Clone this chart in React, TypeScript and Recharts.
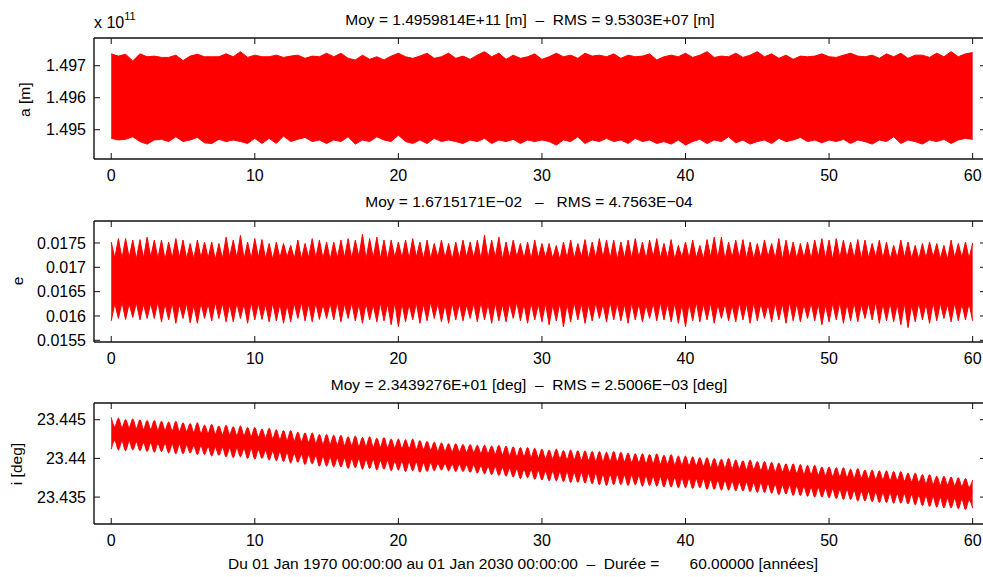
import React from 'react';
import { ComposedChart, Area, XAxis, YAxis, ReferenceLine } from 'recharts';

// ---------- axes / ticks ----------
const YEAR_TICKS = [0, 10, 20, 30, 40, 50, 60];
const X_DOMAIN: [number, number] = [-1.2, 60.93];
const A_TICKS = [1.495, 1.496, 1.497];
const A_DOMAIN: [number, number] = [1.494085, 1.497866];
const E_TICKS = [0.0155, 0.016, 0.0165, 0.017, 0.0175];
const E_DOMAIN: [number, number] = [0.015465, 0.017952];
const I_TICKS = [23.435, 23.44, 23.445];
const I_DOMAIN: [number, number] = [23.43152, 23.44716];

// ---------- texts ----------
const TITLE_A = 'Moy = 1.4959814E+11 [m]  \u2013  RMS = 9.5303E+07 [m]';
const TITLE_E = 'Moy = 1.6715171E\u221202   \u2013   RMS = 4.7563E\u221204';
const TITLE_I = 'Moy = 2.3439276E+01 [deg]  \u2013  RMS = 2.5006E\u221203 [deg]';
const XLABEL = 'Du 01 Jan 1970 00:00:00 au 01 Jan 2030 00:00:00  \u2013  Dur\u00e9e =       60.00000 [ann\u00e9es]';
const YLABEL_A = 'a [m]';
const YLABEL_E = 'e';
const YLABEL_I = 'i [deg]';

// ---------- data: a (x 1e11 m), envelope every 0.5 year ----------
const A_STEP = 0.5;
const aUpper = [
  1.49737, 1.4973, 1.49736, 1.49715, 1.49737, 1.49728, 1.4973, 1.49726, 1.49726, 1.49733,
  1.49716, 1.4973, 1.49736, 1.49728, 1.49728, 1.49728, 1.49737, 1.49728, 1.49744, 1.49726,
  1.49733, 1.49728, 1.49728, 1.49733, 1.49726, 1.4973, 1.49733, 1.49723, 1.4973, 1.49728,
  1.49739,
  1.49728, 1.49739, 1.49723, 1.49718, 1.49733, 1.4972, 1.49728, 1.49718, 1.4973, 1.49739,
  1.49728, 1.49723, 1.4973, 1.49739, 1.49723, 1.49728, 1.49739, 1.49723, 1.4973, 1.4972,
  1.49733, 1.49744, 1.49728, 1.49739, 1.4972, 1.49733, 1.49723, 1.49728, 1.49737, 1.4972,
  1.49728, 1.49739, 1.49728, 1.49733, 1.49723, 1.49739, 1.4973, 1.49733, 1.49728, 1.49737,
  1.49723, 1.49733, 1.49728, 1.4973, 1.49737, 1.49718,
  1.49728, 1.49733, 1.49728, 1.49739, 1.49726, 1.49733, 1.49744, 1.49726, 1.4973, 1.49728,
  1.49739, 1.49726, 1.49733, 1.49744, 1.49728, 1.49737, 1.49723, 1.49733, 1.4972, 1.4973,
  1.49728, 1.4973, 1.49737, 1.49728, 1.49726, 1.49733, 1.49739, 1.4973, 1.49728, 1.49733,
  1.49723, 1.49737, 1.49728, 1.49739, 1.49723, 1.49733, 1.49733, 1.49726, 1.49739, 1.49728,
  1.49744, 1.49728, 1.49737, 1.49741,
];
const aLower = [
  1.49473, 1.49468, 1.4947, 1.49478, 1.49463, 1.49455, 1.49468, 1.4947, 1.49463, 1.49478,
  1.49463, 1.49468, 1.49476, 1.49459, 1.49457, 1.4947, 1.49463, 1.49468, 1.49463, 1.49457,
  1.49473, 1.49457, 1.49473, 1.49457, 1.4948, 1.49463, 1.4947, 1.49476, 1.49463, 1.49468,
  1.49457,
  1.49468, 1.49463, 1.49478, 1.49455, 1.49468, 1.49463, 1.49478, 1.49468, 1.49463, 1.49483,
  1.49463, 1.49457, 1.49468, 1.49457, 1.49473, 1.49463, 1.49468, 1.49463, 1.49457, 1.49468,
  1.49463, 1.49473, 1.49457, 1.49468, 1.49463, 1.4947, 1.49457, 1.49468, 1.49463, 1.49468,
  1.49463, 1.49452, 1.49468, 1.49463, 1.49478, 1.49457, 1.49468, 1.49463, 1.49473, 1.49463,
  1.49468, 1.49457, 1.49473, 1.49463, 1.49468, 1.49457,
  1.49463, 1.49455, 1.49468, 1.49452, 1.49463, 1.4947, 1.49457, 1.49468, 1.49463, 1.49478,
  1.49459, 1.49468, 1.49455, 1.49463, 1.49468, 1.49457, 1.49473, 1.49463, 1.49468, 1.49476,
  1.49463, 1.49468, 1.49459, 1.49468, 1.49463, 1.4947, 1.49457, 1.49468, 1.49463, 1.49455,
  1.49468, 1.49463, 1.49478, 1.49457, 1.49468, 1.49463, 1.49455, 1.49468, 1.49463, 1.4947,
  1.49457, 1.49468, 1.49473, 1.4947,
];

// ---------- data: e, spikes every 0.5 yr, core between ----------
const FINE_STEP = 0.25;
const eSpikeHigh = [
  0.01752, 0.01759, 0.01759, 0.01756, 0.01757, 0.01762, 0.01756, 0.01756, 0.01752, 0.01759,
  0.01756, 0.01749, 0.01756, 0.01752, 0.01752, 0.01749, 0.01762, 0.01756, 0.01766, 0.01752,
  0.01759, 0.01757, 0.01749, 0.01752, 0.01749, 0.01745, 0.01756, 0.01749, 0.01759, 0.01756,
  0.01752,
  0.01752, 0.01756, 0.01759, 0.01756, 0.01768, 0.01759, 0.01762, 0.01756, 0.01756, 0.01752,
  0.01756, 0.01759, 0.01752, 0.01756, 0.01749, 0.01756, 0.01749, 0.01752, 0.01756, 0.01752,
  0.01756, 0.01766, 0.01756, 0.01762, 0.01752, 0.01756, 0.01749, 0.01752, 0.01756, 0.01749,
  0.01749, 0.01745, 0.01752, 0.01756, 0.01749, 0.01757, 0.01752, 0.01759, 0.01756, 0.01756,
  0.01752, 0.01756, 0.01759, 0.01752, 0.01756, 0.01759,
  0.01749, 0.01757, 0.01745, 0.01752, 0.01756, 0.01745, 0.01757, 0.01762, 0.01762, 0.01752,
  0.01756, 0.01757, 0.01752, 0.01749, 0.01756, 0.01749, 0.01759, 0.01756, 0.01752, 0.01749,
  0.01752, 0.01756, 0.01759, 0.01756, 0.01759, 0.01756, 0.01752, 0.01757, 0.01756, 0.01749,
  0.01756, 0.01752, 0.01745, 0.01756, 0.01752, 0.01745, 0.01749, 0.01752, 0.01749, 0.01745,
  0.01756, 0.01749, 0.01752, 0.0175,
];
const eSpikeLow = [
  0.0159, 0.01595, 0.01593, 0.01597, 0.01592, 0.01595, 0.01595, 0.01588, 0.01592, 0.01585,
  0.01595, 0.01586, 0.01585, 0.01595, 0.0159, 0.01595, 0.01588, 0.01588, 0.01595, 0.01585,
  0.01592, 0.01593, 0.01588, 0.0159, 0.01585, 0.01588, 0.01595, 0.0159, 0.01588, 0.01593,
  0.01595,
  0.01592, 0.01588, 0.01595, 0.0159, 0.01585, 0.01592, 0.01588, 0.0159, 0.01582, 0.01578,
  0.01588, 0.01592, 0.01585, 0.0159, 0.01595, 0.01588, 0.01585, 0.01592, 0.0159, 0.01595,
  0.01588, 0.01592, 0.01585, 0.0159, 0.01588, 0.01595, 0.0159, 0.01585, 0.01592, 0.01588,
  0.01582, 0.0159, 0.01578, 0.01588, 0.01592, 0.01585, 0.0159, 0.01595, 0.01588, 0.01592,
  0.0159, 0.01585, 0.01592, 0.01588, 0.01595, 0.0159,
  0.01592, 0.01588, 0.01585, 0.01578, 0.0159, 0.01588, 0.01592, 0.01585, 0.01595, 0.0159,
  0.01588, 0.01592, 0.01585, 0.0159, 0.01595, 0.01588, 0.01592, 0.01585, 0.0159, 0.01588,
  0.01595, 0.0159, 0.01582, 0.01588, 0.01592, 0.01585, 0.0159, 0.01588, 0.01595, 0.01592,
  0.01585, 0.0159, 0.01588, 0.01582, 0.01576, 0.01588, 0.01592, 0.01585, 0.0159, 0.01595,
  0.01588, 0.0159, 0.01592, 0.0159,
];
const eCoreHigh = [
  0.01719, 0.01718, 0.0172, 0.01717, 0.01719, 0.01721, 0.01718, 0.01716, 0.01719, 0.0172,
  0.01718, 0.01717, 0.0172, 0.01719, 0.01716, 0.01718, 0.01721, 0.01719, 0.01717, 0.01718,
  0.0172, 0.01718, 0.01716, 0.01719, 0.01721, 0.01718, 0.01717, 0.0172, 0.01719, 0.01718,
  0.01716, 0.01719, 0.0172, 0.01718, 0.01721, 0.01717, 0.01719, 0.01718, 0.01716, 0.0172,
  0.01719, 0.01718, 0.01721, 0.01717, 0.01718, 0.0172, 0.01719, 0.01716, 0.01718, 0.01721,
  0.01719, 0.01717, 0.01718, 0.0172, 0.01716, 0.01719, 0.01721, 0.01718, 0.01717, 0.01719,
  0.0172, 0.01718, 0.01716, 0.01719, 0.01718, 0.01721, 0.01717, 0.01719, 0.0172, 0.01718,
  0.01716, 0.01719, 0.01718, 0.0172, 0.01717, 0.01721, 0.01719, 0.01718, 0.01716, 0.0172,
  0.01718, 0.01719, 0.01717, 0.01721, 0.01718, 0.01716, 0.0172, 0.01719, 0.01718, 0.01717,
  0.01719, 0.01721, 0.01718, 0.01716, 0.0172, 0.01718, 0.01719, 0.01717, 0.01721, 0.01718,
  0.01716, 0.01719, 0.0172, 0.01718, 0.01717, 0.01719, 0.01721, 0.01718, 0.01716, 0.01719,
  0.0172, 0.01718, 0.01717, 0.01719, 0.01721, 0.01718, 0.01716, 0.01719, 0.0172, 0.01718,
];
const eCoreLow = [
  0.01626, 0.01628, 0.01625, 0.01627, 0.01624, 0.01626, 0.01629, 0.01625, 0.01627, 0.01624,
  0.01626, 0.01623, 0.01627, 0.01625, 0.01628, 0.01626, 0.01624, 0.01627, 0.01625, 0.01629,
  0.01626, 0.01624, 0.01627, 0.01625, 0.01623, 0.01626, 0.01628, 0.01625, 0.01627, 0.01624,
  0.01626, 0.01629, 0.01625, 0.01627, 0.01624, 0.01626, 0.01623, 0.01627, 0.01625, 0.01628,
  0.01626, 0.01624, 0.01627, 0.01625, 0.01629, 0.01626, 0.01624, 0.01627, 0.01625, 0.01623,
  0.01626, 0.01628, 0.01625, 0.01627, 0.01624, 0.01626, 0.01629, 0.01625, 0.01627, 0.01624,
  0.01626, 0.01623, 0.01627, 0.01625, 0.01628, 0.01626, 0.01624, 0.01627, 0.01625, 0.01629,
  0.01626, 0.01624, 0.01627, 0.01625, 0.01623, 0.01626, 0.01628, 0.01625, 0.01627, 0.01624,
  0.01626, 0.01629, 0.01625, 0.01627, 0.01624, 0.01626, 0.01623, 0.01627, 0.01625, 0.01628,
  0.01626, 0.01624, 0.01627, 0.01625, 0.01629, 0.01626, 0.01624, 0.01627, 0.01625, 0.01623,
  0.01626, 0.01628, 0.01625, 0.01627, 0.01624, 0.01626, 0.01629, 0.01625, 0.01627, 0.01624,
  0.01626, 0.01623, 0.01627, 0.01625, 0.01628, 0.01626, 0.01624, 0.01627, 0.01625, 0.01626,
];

// ---------- data: i (deg), lobes every 0.5 yr, waists between ----------
const iLobeTop = [
  23.4453, 23.4452, 23.445, 23.4451, 23.445, 23.4449, 23.4449, 23.4448, 23.4447, 23.4448,
  23.4446, 23.4445, 23.4446, 23.4443, 23.4444, 23.4442, 23.4443, 23.4441, 23.4442, 23.444,
  23.444, 23.4438, 23.4439, 23.4437, 23.4436, 23.4436, 23.4434, 23.4433, 23.4433, 23.4431,
  23.4431, 23.443, 23.443, 23.4428, 23.4429, 23.4427, 23.4428, 23.4426, 23.4427, 23.4425,
  23.4425, 23.4424, 23.4425, 23.4423, 23.4422, 23.4421, 23.442, 23.4419, 23.4419, 23.4418,
  23.4418, 23.4417, 23.4417, 23.4416, 23.4417, 23.4416, 23.4415, 23.4414, 23.4414, 23.4413,
  23.4412, 23.4411, 23.4412, 23.441, 23.4411, 23.441, 23.441, 23.4409, 23.4409, 23.4408,
  23.4409, 23.4408, 23.4407, 23.4406, 23.4406, 23.4405, 23.4406, 23.4404, 23.4405, 23.4403,
  23.4403, 23.4402, 23.4401, 23.4401, 23.44, 23.4399, 23.44, 23.4398, 23.4397, 23.4398,
  23.4396, 23.4396, 23.4395, 23.4394, 23.4393, 23.4393, 23.4392, 23.4391, 23.4391, 23.4389,
  23.4389, 23.4388, 23.4388, 23.4386, 23.4387, 23.4385, 23.4385, 23.4384, 23.4384, 23.4383,
  23.4383, 23.4381, 23.4381, 23.4379, 23.4379, 23.4377, 23.4377, 23.4376, 23.4375, 23.4374,
  23.4372,
];
const iLobeBottom = [
  23.4412, 23.4411, 23.441, 23.4411, 23.441, 23.4409, 23.4408, 23.4409, 23.4407, 23.4406,
  23.4406, 23.4407, 23.4405, 23.4405, 23.4403, 23.4404, 23.4402, 23.4401, 23.4402, 23.44,
  23.4399, 23.44, 23.4398, 23.4397, 23.4396, 23.4394, 23.4395, 23.4392, 23.4393, 23.439,
  23.439, 23.4389, 23.4389, 23.4387, 23.4388, 23.4386, 23.4387, 23.4385, 23.4386, 23.4384,
  23.4385, 23.4383, 23.4384, 23.4382, 23.4383, 23.4384, 23.4385, 23.4384, 23.4383, 23.4383,
  23.4382, 23.4381, 23.438, 23.4379, 23.4378, 23.4377, 23.4376, 23.4374, 23.4375, 23.4373,
  23.4372, 23.4371, 23.4371, 23.437, 23.4369, 23.4369, 23.4368, 23.4367, 23.4366, 23.4365,
  23.4366, 23.4366, 23.4365, 23.4366, 23.4364, 23.4365, 23.4364, 23.4363, 23.4363, 23.4362,
  23.4362, 23.4361, 23.4362, 23.436, 23.436, 23.4359, 23.4359, 23.4358, 23.4358, 23.4357,
  23.4356, 23.4356, 23.4355, 23.4353, 23.4354, 23.4352, 23.4352, 23.4351, 23.435, 23.435,
  23.4349, 23.4348, 23.4347, 23.4347, 23.4345, 23.4345, 23.4344, 23.4343, 23.4343, 23.4342,
  23.4342, 23.4341, 23.434, 23.4339, 23.4338, 23.4337, 23.4336, 23.4336, 23.4335, 23.4334,
  23.4336,
];
const iWaistTop = [
  23.4441, 23.444, 23.444, 23.4439, 23.4438, 23.4438, 23.4437, 23.4437, 23.4436, 23.4435,
  23.4435, 23.4434, 23.4433, 23.4433, 23.4432, 23.4431, 23.4431, 23.443, 23.443, 23.4429,
  23.4428, 23.4427, 23.4426, 23.4425, 23.4424, 23.4423, 23.4422, 23.4421, 23.442, 23.4419,
  23.4419, 23.4418, 23.4417, 23.4417, 23.4416, 23.4416, 23.4415, 23.4415, 23.4414, 23.4414,
  23.4413, 23.4413, 23.4412, 23.4412, 23.4411, 23.441, 23.441, 23.4409, 23.4409, 23.4408,
  23.4408, 23.4407, 23.4407, 23.4406, 23.4405, 23.4404, 23.4403, 23.4403, 23.4402, 23.4401,
  23.44, 23.44, 23.44, 23.4399, 23.4399, 23.4398, 23.4398, 23.4397, 23.4397, 23.4397,
  23.4396, 23.4396, 23.4395, 23.4395, 23.4394, 23.4394, 23.4393, 23.4393, 23.4392, 23.4392,
  23.4391, 23.4391, 23.439, 23.4389, 23.4389, 23.4388, 23.4387, 23.4387, 23.4386, 23.4386,
  23.4385, 23.4384, 23.4383, 23.4383, 23.4382, 23.4381, 23.438, 23.438, 23.4379, 23.4378,
  23.4377, 23.4377, 23.4376, 23.4375, 23.4375, 23.4374, 23.4373, 23.4373, 23.4372, 23.4372,
  23.4371, 23.437, 23.4369, 23.4368, 23.4367, 23.4366, 23.4366, 23.4365, 23.4364, 23.4363,
];
const iWaistBottom = [
  23.4423, 23.4422, 23.4422, 23.4421, 23.442, 23.442, 23.4419, 23.4419, 23.4418, 23.4418,
  23.4417, 23.4416, 23.4416, 23.4415, 23.4414, 23.4414, 23.4413, 23.4413, 23.4412, 23.4412,
  23.4411, 23.441, 23.4409, 23.4408, 23.4407, 23.4406, 23.4405, 23.4404, 23.4403, 23.4402,
  23.4401, 23.44, 23.44, 23.4399, 23.4399, 23.4398, 23.4398, 23.4397, 23.4397, 23.4396,
  23.4396, 23.4395, 23.4395, 23.4394, 23.4394, 23.4393, 23.4393, 23.4392, 23.4392, 23.4391,
  23.4391, 23.439, 23.4389, 23.4389, 23.4388, 23.4387, 23.4386, 23.4385, 23.4385, 23.4384,
  23.4383, 23.4383, 23.4382, 23.4382, 23.4381, 23.4381, 23.438, 23.438, 23.4379, 23.4379,
  23.4379, 23.4378, 23.4378, 23.4377, 23.4377, 23.4376, 23.4376, 23.4375, 23.4375, 23.4374,
  23.4374, 23.4373, 23.4373, 23.4372, 23.4371, 23.4371, 23.437, 23.4369, 23.4369, 23.4368,
  23.4368, 23.4367, 23.4366, 23.4365, 23.4365, 23.4364, 23.4363, 23.4362, 23.4362, 23.4361,
  23.436, 23.4359, 23.4359, 23.4358, 23.4357, 23.4357, 23.4356, 23.4355, 23.4355, 23.4354,
  23.4354, 23.4353, 23.4352, 23.4351, 23.435, 23.4349, 23.4348, 23.4348, 23.4347, 23.4346,
];

// ---------- table builders ----------
type Row = { t: number; band: [number, number] };

function buildEnvelope(upper: number[], lower: number[], step: number): Row[] {
  return upper.map((u, k) => ({ t: k * step, band: [lower[k], u] as [number, number] }));
}

function buildAlternating(
  peakHi: number[],
  peakLo: number[],
  midHi: number[],
  midLo: number[],
  step: number
): Row[] {
  const rows: Row[] = [];
  for (let k = 0; k < peakHi.length; k++) {
    rows.push({ t: 2 * k * step, band: [peakLo[k], peakHi[k]] });
    if (k < midHi.length) rows.push({ t: (2 * k + 1) * step, band: [midLo[k], midHi[k]] });
  }
  return rows;
}

const aData = buildEnvelope(aUpper, aLower, A_STEP);
const eData = buildAlternating(eSpikeHigh, eSpikeLow, eCoreHigh, eCoreLow, FINE_STEP);
const iData = buildAlternating(iLobeTop, iLobeBottom, iWaistTop, iWaistBottom, FINE_STEP);

// ---------- styling ----------
const FONT = '"Liberation Sans", Arial, Helvetica, sans-serif';
const RED = '#ff0000';
const FRAME = '#111';
const CHART_W = 1000;
const CHART_H = 183;
const PLOT_H = 121; // plot area height in px
const TICK_PX = 6; // tick length in px

type PanelProps = {
  top: number;
  data: Row[];
  domain: [number, number];
  ticks: number[];
  curve: 'linear' | 'monotone';
};

function Panel({ top, data, domain, ticks, curve }: PanelProps) {
  const axisLine = { stroke: FRAME, strokeWidth: 1.4 };
  const tickLine = { stroke: FRAME, strokeWidth: 1 };
  const tickStyle = { fontSize: 16, fill: '#000', fontFamily: FONT };
  const hiddenTick = { fontSize: 1, fill: 'none' };
  const topTickLen = ((domain[1] - domain[0]) * TICK_PX) / PLOT_H;
  return (
    <div style={{ position: 'absolute', left: 0, top, width: CHART_W, height: CHART_H }}>
      <ComposedChart
        width={CHART_W}
        height={CHART_H}
        data={data}
        margin={{ top: 38, right: 13, bottom: 0, left: 0 }}
      >
        <XAxis
          xAxisId="b"
          type="number"
          dataKey="t"
          domain={X_DOMAIN}
          ticks={YEAR_TICKS}
          interval={0}
          allowDataOverflow
          height={24}
          tickSize={-6}
          tickMargin={17}
          axisLine={axisLine}
          tickLine={tickLine}
          tick={tickStyle}
        />
        <YAxis
          yAxisId="l"
          type="number"
          domain={domain}
          ticks={ticks}
          interval={0}
          allowDataOverflow
          width={94}
          tickSize={-6}
          tickMargin={14}
          axisLine={axisLine}
          tickLine={tickLine}
          tick={tickStyle}
        />
        <YAxis
          yAxisId="r"
          orientation="right"
          type="number"
          domain={domain}
          ticks={ticks}
          interval={0}
          allowDataOverflow
          width={1}
          tickSize={-6}
          tickMargin={0}
          axisLine={axisLine}
          tickLine={tickLine}
          tick={hiddenTick}
        />
        <Area
          xAxisId="b"
          yAxisId="r"
          dataKey="band"
          type="linear"
          stroke="none"
          fill="none"
          dot={false}
          activeDot={false}
          isAnimationActive={false}
        />
        <Area
          xAxisId="b"
          yAxisId="l"
          dataKey="band"
          type={curve}
          stroke={RED}
          strokeWidth={1}
          fill={RED}
          fillOpacity={1}
          dot={false}
          activeDot={false}
          isAnimationActive={false}
        />
        <ReferenceLine
          xAxisId="b"
          yAxisId="l"
          y={domain[1]}
          stroke={FRAME}
          strokeWidth={1.4}
          ifOverflow="visible"
        />
        {YEAR_TICKS.map((yr) => (
          <ReferenceLine
            key={yr}
            xAxisId="b"
            yAxisId="l"
            segment={[
              { x: yr, y: domain[1] },
              { x: yr, y: domain[1] - topTickLen },
            ]}
            stroke={FRAME}
            strokeWidth={1}
            ifOverflow="visible"
          />
        ))}
      </ComposedChart>
    </div>
  );
}

export default function App() {
  const textStyle = { fontFamily: FONT, fill: '#000', whiteSpace: 'pre' as const };
  return (
    <div
      style={{
        position: 'absolute',
        left: 0,
        top: 0,
        width: 983,
        height: 577,
        overflow: 'hidden',
        background: '#fff',
      }}
    >
      <Panel top={0} data={aData} domain={A_DOMAIN} ticks={A_TICKS} curve="linear" />
      <Panel top={183} data={eData} domain={E_DOMAIN} ticks={E_TICKS} curve="linear" />
      <Panel top={365} data={iData} domain={I_DOMAIN} ticks={I_TICKS} curve="monotone" />
      <svg
        width={983}
        height={577}
        style={{ position: 'absolute', left: 0, top: 0, pointerEvents: 'none' }}
      >
        <text x={530} y={25} fontSize={15.5} textAnchor="middle" style={textStyle}>
          {TITLE_A}
        </text>
        <text x={529} y={207} fontSize={15.5} textAnchor="middle" style={textStyle}>
          {TITLE_E}
        </text>
        <text x={529} y={390} fontSize={15.5} textAnchor="middle" style={textStyle}>
          {TITLE_I}
        </text>
        <text x={523} y={569} fontSize={15.5} textAnchor="middle" style={textStyle}>
          {XLABEL}
        </text>
        <text x={94} y={28} fontSize={16} style={textStyle}>
          x 10
          <tspan fontSize={11} dy={-8}>
            11
          </tspan>
        </text>
        <text
          x={30}
          y={99.7}
          fontSize={15.5}
          textAnchor="middle"
          transform="rotate(-90 30 99.7)"
          style={textStyle}
        >
          {YLABEL_A}
        </text>
        <text
          x={23}
          y={281}
          fontSize={15.5}
          textAnchor="middle"
          transform="rotate(-90 23 281)"
          style={textStyle}
        >
          {YLABEL_E}
        </text>
        <text
          x={22}
          y={464}
          fontSize={15.5}
          textAnchor="middle"
          transform="rotate(-90 22 464)"
          style={textStyle}
        >
          {YLABEL_I}
        </text>
      </svg>
    </div>
  );
}
